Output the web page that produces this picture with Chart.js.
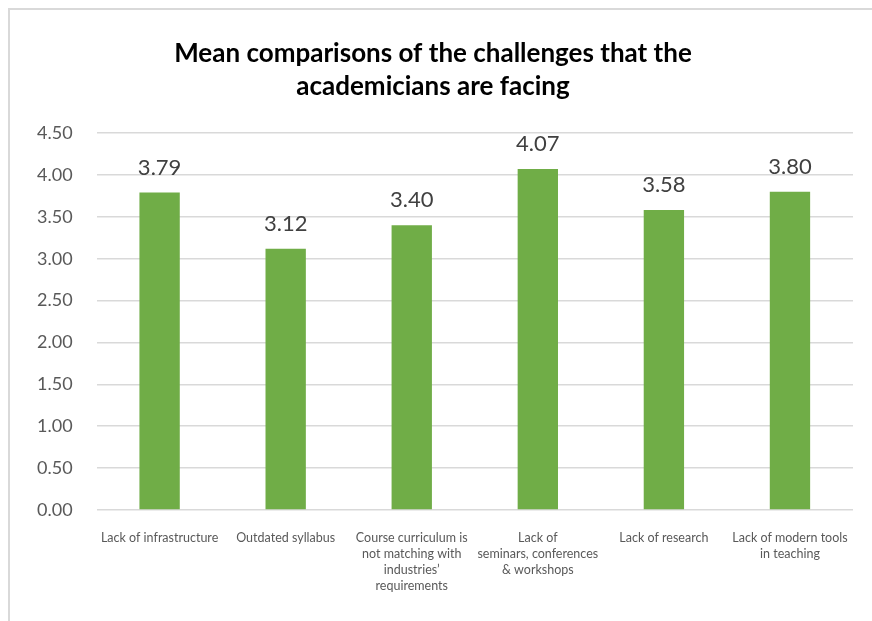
<!DOCTYPE html>
<html>
<head>
<meta charset="utf-8">
<script src="https://cdn.jsdelivr.net/npm/chart.js@4"></script>
<style>
    html, body { margin: 0; padding: 0; background: #fff; }
    #wrap { position: relative; width: 872px; height: 621px; overflow: hidden; }
    #frame { position: absolute; left: 8px; top: 8px; right: -2px; bottom: -2px; border-top: 2px solid #d9d9d9; border-left: 2px solid #d9d9d9; }
    canvas { position: absolute; left: 0; top: 0; }
</style>
</head>
<body>
<div id="wrap">
    <div id="frame"></div>
    <canvas id="chart" width="872" height="621"></canvas>
</div>
<script>
const categories = [
    ['Lack of infrastructure'],
    ['Outdated syllabus'],
    ['Course curriculum is', 'not matching with', 'industries\u2019', 'requirements'],
    ['Lack of', 'seminars, conferences', '& workshops'],
    ['Lack of research'],
    ['Lack of modern tools', 'in teaching']
];
const meanValues = [3.79, 3.12, 3.40, 4.07, 3.58, 3.80];
const titleLines = ['Mean comparisons of the challenges that the', 'academicians are facing'];

// draws the value above each bar
const valueLabels = {
    id: 'valueLabels',
    afterDatasetsDraw(chart) {
        const ctx = chart.ctx;
        const meta = chart.getDatasetMeta(0);
        ctx.save();
        ctx.font = '22px Lato';
        ctx.fillStyle = '#404040';
        ctx.textAlign = 'center';
        ctx.textBaseline = 'alphabetic';
        meta.data.forEach((bar, i) => {
            ctx.fillText(meanValues[i].toFixed(2), bar.x, bar.y - 18);
        });
        ctx.restore();
    }
};

new Chart(document.getElementById('chart'), {
    type: 'bar',
    data: {
        labels: categories,
        datasets: [{
            data: meanValues,
            backgroundColor: '#70ad47',
            categoryPercentage: 1,
            barPercentage: 0.32
        }]
    },
    options: {
        responsive: false,
        animation: false,
        layout: { padding: { left: 13, right: 19, top: 29, bottom: 7 } },
        plugins: {
            legend: { display: false },
            tooltip: { enabled: false },
            title: {
                display: true,
                text: titleLines,
                color: '#000',
                font: { family: 'Lato', size: 26, weight: 'bold', lineHeight: 1.27 },
                padding: { top: 8, bottom: 30 }
            }
        },
        scales: {
            x: {
                grid: { display: false, drawTicks: false },
                border: { display: false },
                ticks: {
                    color: '#595959',
                    font: { family: 'Lato', size: 12.5, lineHeight: 1.28 },
                    maxRotation: 0,
                    autoSkip: false,
                    padding: 20
                }
            },
            y: {
                min: 0,
                max: 4.5,
                grid: { color: '#d9d9d9', lineWidth: 1.5, drawTicks: false },
                border: { display: false },
                ticks: {
                    stepSize: 0.5,
                    color: '#595959',
                    font: { family: 'Lato', size: 18 },
                    padding: 24,
                    callback: v => v.toFixed(2)
                }
            }
        }
    },
    plugins: [valueLabels]
});
</script>
</body>
</html>
